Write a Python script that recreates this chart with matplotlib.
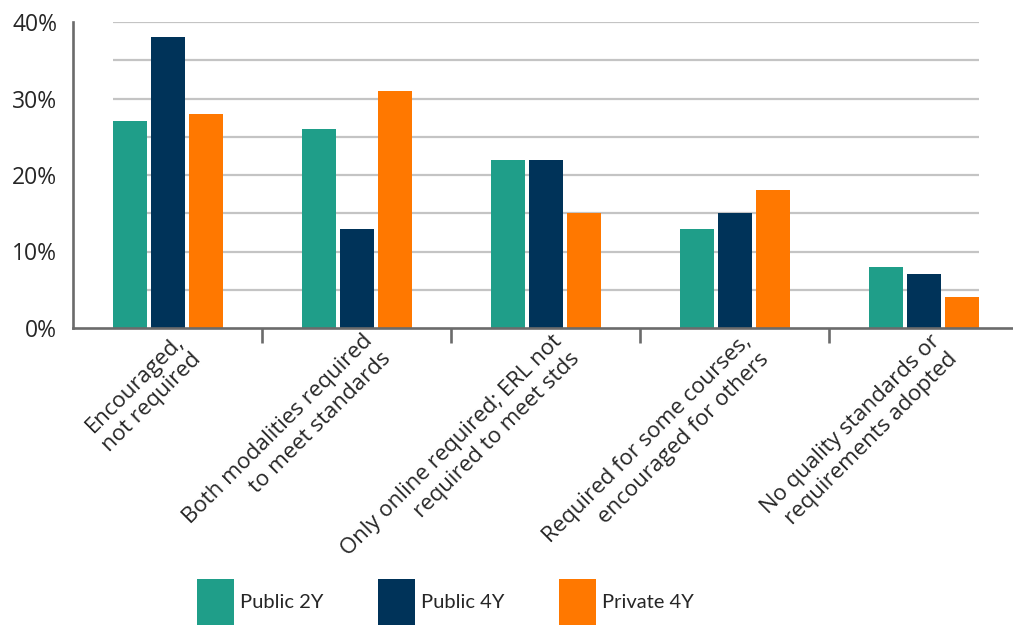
import numpy as np
import matplotlib
matplotlib.use("Agg")
import matplotlib.pyplot as plt
import matplotlib.transforms as mtransforms

# survey shares by institution type
categories = [
    "Encouraged,\nnot required",
    "Both modalities required\nto meet standards",
    "Only online required; ERL not\nrequired to meet stds",
    "Required for some courses,\nencouraged for others",
    "No quality standards or\nrequirements adopted",
]
public_2y = [27, 26, 22, 13, 8]
public_4y = [38, 13, 22, 15, 7]
private_4y = [28, 31, 15, 18, 4]
series_names = ["Public 2Y", "Public 4Y", "Private 4Y"]
colors = ["#1f9e89", "#003359", "#ff7800"]
yticks = [0, 10, 20, 30, 40]

plt.rcParams["font.family"] = ["Open Sans", "DejaVu Sans"]
text_color = "#262626"
axis_color = "#6b6b6b"

W, H = 1013, 625
fig = plt.figure(figsize=(W / 100, H / 100), dpi=100)
ax = fig.add_axes([73 / W, 297 / H, 940 / W, 306 / H])

x = np.arange(len(categories))
width = 0.18
step = 0.201

# horizontal guides only across the bar area
ax.hlines(np.arange(5, 41, 5), -0.291, 4.291, color="#c4c4c4", lw=1.6, zorder=1)

bars = []
for k, (vals, col) in enumerate(zip([public_2y, public_4y, private_4y], colors)):
    b = ax.bar(x + (k - 1) * step, vals, width, color=col, zorder=2, label=series_names[k])
    bars.append(b)

ax.set_xlim(-0.5, 4.471)
ax.set_ylim(0, 40)

for s in ["top", "right"]:
    ax.spines[s].set_visible(False)
for s in ["left", "bottom"]:
    ax.spines[s].set_color(axis_color)
    ax.spines[s].set_linewidth(1.9)
ax.spines["bottom"].set_zorder(3)

ax.set_yticks(yticks)
ax.set_yticklabels([f"{v}%" for v in yticks], fontsize=16.5, color=text_color)
ax.tick_params(axis="y", length=0, pad=11.5)

# separators between groups, labels placed by hand
ax.set_xticks(np.arange(0.5, len(categories) - 1, 1.0))
ax.set_xticklabels([])
ax.tick_params(axis="x", length=11, width=1.9, color=axis_color, direction="out")

trans = ax.get_xaxis_transform() + mtransforms.ScaledTranslation(0, -2 / 72, fig.dpi_scale_trans)
for i, lab in enumerate(categories):
    ax.text(i + 0.03, 0, lab, transform=trans, rotation=45, rotation_mode="anchor",
            ha="right", va="top", multialignment="right", fontsize=16,
            color=text_color, linespacing=1.25)

leg = fig.legend(handles=bars, labels=series_names, loc="upper left",
                 bbox_to_anchor=(197 / W, 1 - 579 / H), ncol=3, frameon=False,
                 prop={"family": ["Liberation Sans Narrow", "Lato", "DejaVu Sans"], "size": 14.5},
                 handlelength=1.84, handleheight=3.2, handletextpad=0.3,
                 columnspacing=2.7, borderpad=0, borderaxespad=0)
for t in leg.get_texts():
    t.set_color(text_color)

fig.savefig("out.png", dpi=100, facecolor="white")
